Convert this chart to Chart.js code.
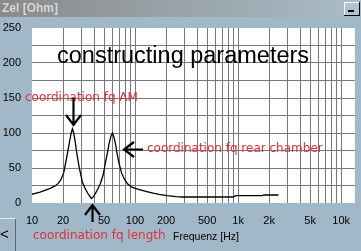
<!DOCTYPE html>
<html>
<head>
<meta charset="utf-8">
<script src="https://cdn.jsdelivr.net/npm/chart.js@4.4.1/dist/chart.umd.min.js"></script>
<style>
  html, body { margin: 0; padding: 0; background: #a0b8c8; }
  canvas { display: block; }
</style>
</head>
<body>
<canvas id="zel" width="361" height="251"></canvas>
<script>
// impedance curve
const freqs = [10, 12, 13.3, 15, 16.6, 18, 19.2, 20.3, 21.4, 22.4, 23.3, 24, 24.7, 25.4, 26.2, 27.3, 28.6, 30, 30.8, 32.5, 34.4, 36.2, 37.8,
  39.5, 41.4, 43.5, 46.1, 49, 51.5, 54, 56, 58.5, 60.4, 62.5, 64.9, 67, 69.9, 74, 79.5, 85, 92, 100, 115, 133, 150, 171, 206, 250, 286,
  500, 889, 958, 1718, 1770, 2466];
const ohms = [12.5, 15.5, 18, 21, 24, 28, 34, 43, 60, 76, 90, 100, 106, 100, 88, 70, 52, 38, 30, 22, 15, 10, 6.5,
  9, 14, 20, 28, 40, 57, 72, 85, 96, 100, 94, 83, 70, 57, 43, 33, 27, 23, 21, 18.5, 16, 14, 12.4, 10.4, 9.2, 8.6,
  8.6, 8.6, 10.4, 10.4, 11.4, 11.4];

const xGrid = [10, 20, 30, 40, 50, 60, 70, 80, 90, 100, 200, 300, 400, 500, 600, 700, 800, 900,
  1000, 2000, 3000, 4000, 5000, 6000, 7000, 8000, 9000, 10000];
const xLabelValues = [10, 20, 50, 100, 200, 500, 1000, 2000, 5000, 10000];
const xLabelText = ['10', '20', '50', '100', '200', '500', '1k', '2k', '5k', '10k'];
const yLabelValues = [0, 50, 100, 150, 200, 250];

const points = freqs.map((f, i) => ({ x: f, y: ohms[i] }));
const red = '#e0303a';
const gridGray = '#787878';

function arrow(ctx, x1, y1, x2, y2) {
  const a = Math.atan2(y2 - y1, x2 - x1);
  ctx.beginPath();
  ctx.moveTo(x1, y1);
  ctx.lineTo(x2, y2);
  ctx.moveTo(x2 - 10 * Math.cos(a) + 7.5 * Math.sin(a), y2 - 10 * Math.sin(a) - 7.5 * Math.cos(a));
  ctx.lineTo(x2, y2);
  ctx.lineTo(x2 - 10 * Math.cos(a) - 7.5 * Math.sin(a), y2 - 10 * Math.sin(a) + 7.5 * Math.cos(a));
  ctx.stroke();
}

const windowDeco = {
  id: 'windowDeco',
  beforeDraw(chart) {
    const ctx = chart.ctx, a = chart.chartArea;
    ctx.save();
    ctx.fillStyle = '#a0b8c8';
    ctx.fillRect(0, 0, chart.width, chart.height);
    const g = ctx.createLinearGradient(0, 0, chart.width, 0);
    g.addColorStop(0, '#8a8a8a');
    g.addColorStop(1, '#a8bcc8');
    ctx.fillStyle = g;
    ctx.fillRect(0, 0, chart.width, 17);
    ctx.fillStyle = '#d6d6d6';
    ctx.font = 'bold 12px Arial, "Liberation Sans"';
    ctx.textBaseline = 'middle';
    ctx.fillText('Zel [Ohm]', 2, 9);
    // minimise button
    ctx.fillStyle = '#b0c2cc';
    ctx.fillRect(344, 2, 16, 14);
    ctx.fillStyle = '#ffffff';
    ctx.fillRect(344, 2, 16, 1);
    ctx.fillRect(344, 2, 1, 14);
    ctx.fillStyle = '#000000';
    ctx.fillRect(344, 15, 16, 1);
    ctx.fillRect(359, 2, 1, 14);
    ctx.fillRect(348, 10, 6, 2);
    // plot background
    ctx.fillStyle = '#ffffff';
    ctx.fillRect(a.left, a.top, a.right - a.left, a.bottom - a.top);
    ctx.restore();
  },
  afterDraw(chart) {
    const ctx = chart.ctx;
    ctx.save();
    ctx.textBaseline = 'alphabetic';
    ctx.fillStyle = '#000000';
    ctx.font = '23.5px Arial, "Liberation Sans"';
    ctx.fillText('constructing parameters', 57, 63);
    ctx.fillStyle = red;
    ctx.font = '12px "DejaVu Sans"';
    ctx.fillText('coordination fq AM', 25, 101);
    ctx.fillText('coordination fq rear chamber', 147, 152);
    ctx.fillText('coordination fq length', 33, 239);
    ctx.fillStyle = '#000000';
    ctx.font = '10.5px Arial, "Liberation Sans"';
    ctx.fillText('Frequenz [Hz]', 173, 240);
    ctx.strokeStyle = '#000000';
    ctx.lineWidth = 2.2;
    arrow(ctx, 73.5, 98, 73.5, 125);
    arrow(ctx, 143, 149.5, 124, 149.5);
    arrow(ctx, 92.5, 222, 92.5, 205);
    // back button, bottom left
    ctx.lineWidth = 1;
    ctx.strokeStyle = '#e4ecf0';
    ctx.beginPath();
    ctx.moveTo(0, 218.5);
    ctx.lineTo(15.5, 218.5);
    ctx.stroke();
    ctx.strokeStyle = '#5a6670';
    ctx.beginPath();
    ctx.moveTo(15.5, 219);
    ctx.lineTo(15.5, 251);
    ctx.stroke();
    ctx.fillStyle = '#000000';
    ctx.font = '15px Arial, "Liberation Sans"';
    ctx.textBaseline = 'middle';
    ctx.fillText('<', 0, 235);
    ctx.restore();
  }
};

new Chart(document.getElementById('zel'), {
  type: 'line',
  data: {
    datasets: [{
      data: points,
      borderColor: '#000000',
      borderWidth: 1.3,
      pointRadius: 0,
      tension: 0,
      fill: false
    }]
  },
  options: {
    responsive: false,
    animation: false,
    devicePixelRatio: 1,
    layout: { padding: { top: 28, left: 0, right: 0, bottom: 0 } },
    plugins: { legend: { display: false }, tooltip: { enabled: false } },
    scales: {
      x: {
        type: 'logarithmic',
        min: 10,
        max: Math.pow(10, 1 + 329 / 105),
        afterBuildTicks: s => { s.ticks = xGrid.map(v => ({ value: v })); },
        afterFit: s => { s.height = 48; },
        border: { display: false },
        grid: {
          drawTicks: false,
          lineWidth: 1,
          color: c => (c.tick && c.tick.value === 10) ? 'rgba(0,0,0,0)' : gridGray
        },
        ticks: {
          autoSkip: false,
          maxRotation: 0,
          padding: 11,
          color: '#000000',
          font: { family: 'Arial, "Liberation Sans"', size: 11 },
          callback: v => {
            const i = xLabelValues.indexOf(v);
            return i >= 0 ? xLabelText[i] : '';
          }
        }
      },
      y: {
        min: 0,
        max: 250,
        afterFit: s => { s.width = 32; },
        border: { display: false },
        grid: {
          drawTicks: false,
          lineWidth: 1,
          color: c => (c.tick && (c.tick.value === 0 || c.tick.value === 250)) ? 'rgba(0,0,0,0)' : gridGray
        },
        ticks: {
          stepSize: 25,
          padding: 11,
          color: '#000000',
          font: { family: 'Arial, "Liberation Sans"', size: 11 },
          callback: v => yLabelValues.includes(v) ? String(v) : ''
        }
      }
    }
  },
  plugins: [windowDeco]
});
</script>
</body>
</html>
